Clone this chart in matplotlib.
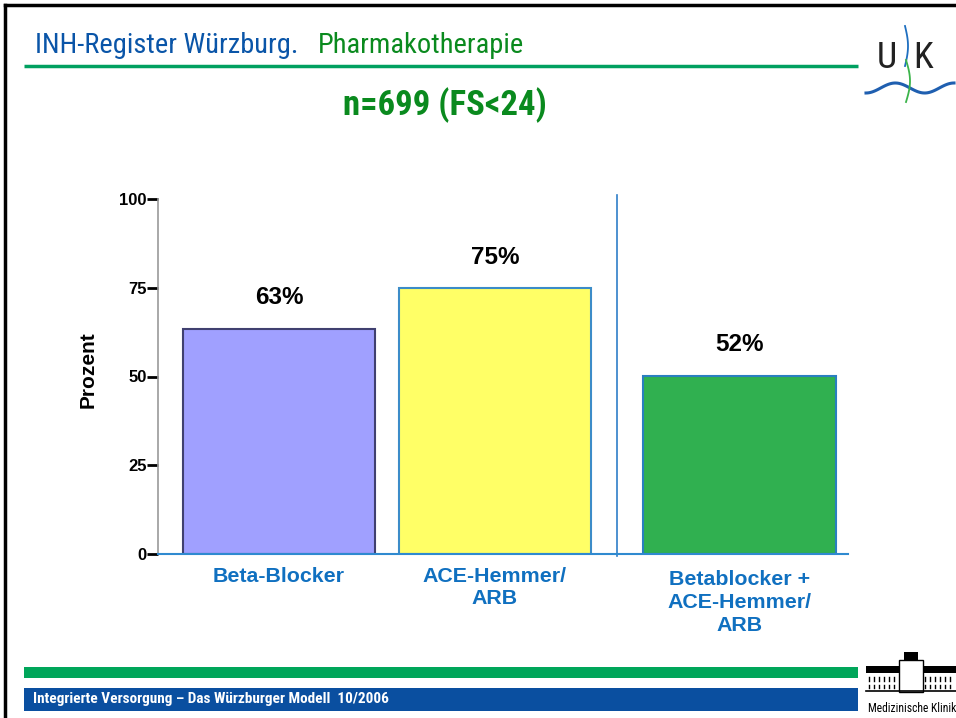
import numpy as np
import matplotlib.pyplot as plt
from matplotlib.patches import Rectangle

# data
categories = ["Beta-Blocker", "ACE-Hemmer/\nARB", "Betablocker +\nACE-Hemmer/\nARB"]
heights = [63.5, 74.8, 50.2]          # bar heights as drawn
value_labels = ["63%", "75%", "52%"]
yticks = [0, 25, 50, 75, 100]

bar_colors = ["#A0A0FF", "#FFFF66", "#30B050"]
edge_colors = ["#404070", "#3C8CC8", "#2A7FC0"]
narrow = ["Roboto Condensed", "Liberation Sans Narrow", "Liberation Sans", "DejaVu Sans"]
arial = ["Liberation Sans", "DejaVu Sans"]

fig = plt.figure(figsize=(9.56, 7.18), dpi=100)

# overlay in pixel coordinates for the slide decoration
deco = fig.add_axes([0, 0, 1, 1], zorder=0)
deco.set_xlim(0, 956)
deco.set_ylim(718, 0)
deco.axis("off")

# slide frame
deco.plot([5, 956], [5, 5], color="black", lw=2.5)
deco.plot([5, 5], [5, 718], color="black", lw=2.5)

# header
t1 = deco.text(35, 45.5, "INH-Register Würzburg.", color="#0A55A8", fontsize=20.5,
               family=narrow, va="center", ha="left")
deco.annotate("Pharmakotherapie", xy=(1, 0.5), xycoords=t1, xytext=(19, 0),
              textcoords="offset pixels", color="#0A8A1E", fontsize=20.5,
              family=narrow, va="center", ha="left")
deco.plot([24, 858], [65.5, 65.5], color="#00A060", lw=2.5, solid_capstyle="butt")
deco.text(445, 105, "n=699 (FS<24)", color="#0A8A1E", fontsize=25,
          family=narrow, weight="bold", va="center", ha="center")

# UK logo
deco.text(887, 58, "U", color="#222222", fontsize=26, family=narrow, ha="center", va="center")
deco.text(923, 58, "K", color="#222222", fontsize=26, family=narrow, ha="center", va="center")
t = np.linspace(0, 1, 60)
deco.plot(866 + 88 * t, 88 + 5 * np.sin(2 * np.pi * (1.5 * t + 0.25)), color="#1F5FB0", lw=2.2)
deco.plot(905 + 3 * np.sin(np.pi * t), 26 + 40 * t, color="#1F6FC0", lw=1.3)
deco.plot(906 + 4 * np.sin(np.pi * t), 60 + 42 * t, color="#3CB44B", lw=1.3)

# footer
deco.add_patch(Rectangle((24, 667), 834, 11, color="#00A65A", lw=0))
deco.add_patch(Rectangle((24, 688), 834, 23, color="#0A4FA0", lw=0))
deco.text(33, 699.5, "Integrierte Versorgung – Das Würzburger Modell  10/2006",
          color="white", fontsize=11, weight="bold", family=narrow, va="center")

# building logo
deco.add_patch(Rectangle((866, 662), 90, 30, color="white", lw=0))
deco.add_patch(Rectangle((866, 666), 35, 7, color="black", lw=0))
deco.add_patch(Rectangle((921, 666), 35, 7, color="black", lw=0))
deco.add_patch(Rectangle((899, 660), 24, 32, facecolor="white", edgecolor="black", lw=1))
deco.add_patch(Rectangle((904, 652), 14, 9, color="black", lw=0))
deco.plot([866, 956], [691, 691], color="black", lw=1.2)
for k in range(6):
    deco.plot([869 + 5 * k, 869 + 5 * k], [677, 681], color="black", lw=1)
    deco.plot([925 + 5 * k, 925 + 5 * k], [677, 681], color="black", lw=1)
    deco.plot([869 + 5 * k, 869 + 5 * k], [685, 688], color="black", lw=1)
    deco.plot([925 + 5 * k, 925 + 5 * k], [685, 688], color="black", lw=1)
deco.text(912, 708, "Medizinische Klinik", fontsize=8.4, family=narrow, ha="center", va="center")

# chart
ax = fig.add_axes([158 / 956, (718 - 554) / 718, 690 / 956, 355 / 718], zorder=1)
ax.patch.set_visible(False)
x = np.array([0, 1, 2.132])
ax.bar(x, heights, width=0.89, color=bar_colors, edgecolor=edge_colors, linewidth=1.5, zorder=2)
for xi, h, lab in zip(x, heights, value_labels):
    ax.text(xi, h + 5.5, lab, ha="center", va="bottom", fontsize=17.5, weight="bold", family=arial)

ax.set_xlim(-0.56, 2.634)
ax.set_ylim(0, 100)
ax.set_yticks(yticks)
ax.set_yticklabels([str(v) for v in yticks], fontsize=12, weight="bold", family=arial)
ax.tick_params(axis="y", direction="out", length=8, width=2, color="black", pad=0)
ax.set_xticks(x)
ax.set_xticklabels(categories, fontsize=15.4, weight="bold", color="#1070C0", family=arial,
                   va="top", linespacing=1.25)
ax.tick_params(axis="x", length=0, pad=9)
ax.get_xticklabels()[2].set_y(-0.01)
ax.set_ylabel("Prozent", fontsize=15, weight="bold", family=arial)
ax.yaxis.set_label_coords(-0.087, 0.518)

ax.spines["top"].set_visible(False)
ax.spines["right"].set_visible(False)
ax.spines["left"].set_color("#999999")
ax.spines["left"].set_linewidth(1.2)
ax.spines["bottom"].set_color("#2F8AD0")
ax.spines["bottom"].set_linewidth(1.5)

# separator between single and combined therapy
ax.plot([1.565, 1.565], [-0.5, 101], color="#2F7EC8", lw=1.2, clip_on=False, zorder=1)

fig.savefig("out.png", dpi=100)
